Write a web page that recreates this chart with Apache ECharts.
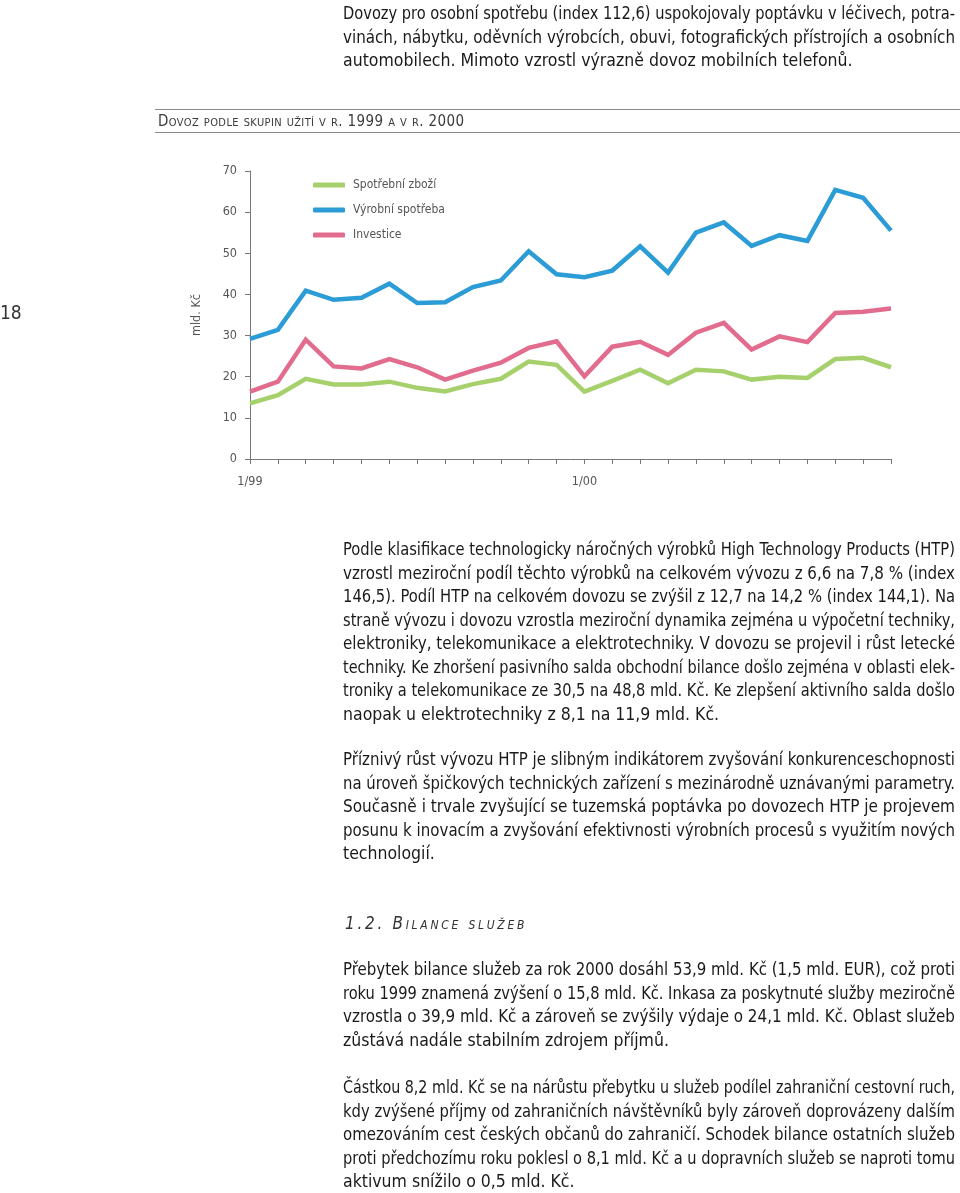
<!DOCTYPE html>
<html><head><meta charset="utf-8">
<script src="https://cdn.jsdelivr.net/npm/echarts@6/dist/echarts.min.js"></script>
<style>
html,body{margin:0;padding:0;background:#fff;}
#page{position:relative;width:960px;height:1193px;overflow:hidden;font-family:"Liberation Sans Narrow","DejaVu Sans Condensed","Roboto Condensed",sans-serif;color:#1a1a1a;}
#chart{position:absolute;left:0;top:0;width:960px;height:1193px;}
.ln{position:absolute;left:343px;width:612px;font-size:17.5px;line-height:23.5px;height:23.5px;white-space:nowrap;transform-origin:0 0;}
.j{text-align:justify;text-align-last:justify;}
.hdr{position:absolute;left:158px;top:112px;font-size:15px;font-variant:small-caps;color:#3a3a3a;letter-spacing:0.4px;}
.rule{position:absolute;left:155px;width:805px;height:0;border-top:1.5px solid #8a8a8a;}
.sec{position:absolute;left:345px;top:913px;font-size:17px;font-style:italic;font-variant:small-caps;letter-spacing:2.7px;color:#333;}
.pg{position:absolute;left:0;top:301px;font-size:19px;color:#333;}
</style></head>
<body><div id="page"><div id="chart"></div></div>
<script>
// ---- chart data ----
const categories = ['1/99','2/99','3/99','4/99','5/99','6/99','7/99','8/99','9/99','10/99','11/99','12/99',
                    '1/00','2/00','3/00','4/00','5/00','6/00','7/00','8/00','9/00','10/00','11/00','12/00'];
const spotrebniZbozi = [13.5,15.5,19.5,18.1,18.1,18.8,17.3,16.4,18.2,19.5,23.7,22.9,
                        16.4,19.0,21.7,18.4,21.7,21.3,19.3,20.0,19.7,24.3,24.6,22.3];
const vyrobniSpotreba = [29.2,31.4,40.9,38.7,39.2,42.6,37.9,38.1,41.8,43.4,50.5,44.9,
                         44.2,45.8,51.7,45.3,55.0,57.5,51.8,54.4,53.0,65.4,63.5,55.5];
const investice = [16.4,18.8,29.0,22.5,22.0,24.3,22.3,19.3,21.5,23.4,27.0,28.6,
                   20.1,27.3,28.5,25.3,30.7,33.1,26.6,29.8,28.4,35.5,35.8,36.6];
const seriesNames = ['Spotřební zboží','Výrobní spotřeba','Investice'];
const yTicks = [0,10,20,30,40,50,60,70];
const yName = 'mld. Kč';
const chartTitle = 'Dovoz podle skupin užití v r. 1999 a v r. 2000';

// ---- page text ----
const para1 = ['Dovozy pro osobní spotřebu (index 112,6) uspokojovaly poptávku v léčivech, potra-',
  'vinách, nábytku, oděvních výrobcích, obuvi, fotografických přístrojích a osobních',
  'automobilech. Mimoto vzrostl výrazně dovoz mobilních telefonů.'];
const para2 = ['Podle klasifikace technologicky náročných výrobků High Technology Products (HTP)',
  'vzrostl meziroční podíl těchto výrobků na celkovém vývozu z 6,6 na 7,8 % (index',
  '146,5). Podíl HTP na celkovém dovozu se zvýšil z 12,7 na 14,2 % (index 144,1). Na',
  'straně vývozu i dovozu vzrostla meziroční dynamika zejména u výpočetní techniky,',
  'elektroniky, telekomunikace a elektrotechniky. V dovozu se projevil i růst letecké',
  'techniky. Ke zhoršení pasivního salda obchodní bilance došlo zejména v oblasti elek-',
  'troniky a telekomunikace ze 30,5 na 48,8 mld. Kč. Ke zlepšení aktivního salda došlo',
  'naopak u elektrotechniky z 8,1 na 11,9 mld. Kč.'];
const para3 = ['Příznivý růst vývozu HTP je slibným indikátorem zvyšování konkurenceschopnosti',
  'na úroveň špičkových technických zařízení s mezinárodně uznávanými parametry.',
  'Současně i trvale zvyšující se tuzemská poptávka po dovozech HTP je projevem',
  'posunu k inovacím a zvyšování efektivnosti výrobních procesů s využitím nových',
  'technologií.'];
const sectionTitle = '1.2. Bilance služeb';
const para4 = ['Přebytek bilance služeb za rok 2000 dosáhl 53,9 mld. Kč (1,5 mld. EUR), což proti',
  'roku 1999 znamená zvýšení o 15,8 mld. Kč. Inkasa za poskytnuté služby meziročně',
  'vzrostla o 39,9 mld. Kč a zároveň se zvýšily výdaje o 24,1 mld. Kč. Oblast služeb',
  'zůstává nadále stabilním zdrojem příjmů.'];
const para5 = ['Částkou 8,2 mld. Kč se na nárůstu přebytku u služeb podílel zahraniční cestovní ruch,',
  'kdy zvýšené příjmy od zahraničních návštěvníků byly zároveň doprovázeny dalším',
  'omezováním cest českých občanů do zahraničí. Schodek bilance ostatních služeb',
  'proti předchozímu roku poklesl o 8,1 mld. Kč a u dopravních služeb se naproti tomu',
  'aktivum snížilo o 0,5 mld. Kč.'];
const pageNumber = '18';

const page = document.getElementById('page');
const TEXT_W = 612;
function addPara(lines, top){
  lines.forEach((t,i)=>{
    const d=document.createElement('div');
    d.className='ln';
    d.style.top=(top+i*23.5)+'px';
    const s=document.createElement('span');
    s.textContent=t;
    d.appendChild(s);
    page.appendChild(d);
    const w=s.getBoundingClientRect().width;
    const last = i===lines.length-1;
    if(w>TEXT_W){
      d.style.width=w+'px';
      d.style.transform='scaleX('+(TEXT_W/w)+')';
    } else if(!last){
      d.classList.add('j');
      d.textContent=t;
    }
  });
}
addPara(para1, 2);
addPara(para2, 538);
addPara(para3, 748);
addPara(para4, 958);
addPara(para5, 1076);
function addEl(cls, text, style){
  const d=document.createElement('div'); d.className=cls; if(text) d.textContent=text;
  if(style) Object.assign(d.style, style); page.appendChild(d);
}
addEl('rule', '', {top:'109px'});
addEl('rule', '', {top:'132px'});
addEl('hdr', chartTitle);
addEl('sec', sectionTitle);
addEl('pg', pageNumber);

const chart = echarts.init(document.getElementById('chart'), null, {renderer:'canvas'});
const fontFam = '"DejaVu Sans Condensed","DejaVu Sans",sans-serif';
const colors = ['#a6d06c','#2b9cd6','#e26c8d'];
const datas = [spotrebniZbozi, vyrobniSpotreba, investice];
chart.setOption({
  animation:false,
  color: colors,
  grid:{left:250, right:69, top:171, bottom:734, containLabel:false},
  legend:{
    orient:'vertical', left:308, top:173, itemWidth:32, itemHeight:5, itemGap:11,
    icon:'roundRect',
    textStyle:{fontFamily:fontFam, fontSize:12, color:'#555', padding:[0,0,0,3], lineHeight:14},
    data: seriesNames
  },
  xAxis:{
    type:'category', data:categories, boundaryGap:false,
    axisLine:{lineStyle:{color:'#777', width:1}},
    axisTick:{show:true, interval:0, length:5, lineStyle:{color:'#777'}},
    axisLabel:{interval:11, margin:16, fontFamily:fontFam, fontSize:12.5, color:'#555'}
  },
  yAxis:{
    type:'value', min:yTicks[0], max:yTicks[yTicks.length-1], interval:10,
    name:yName, nameLocation:'middle', nameRotate:90, nameGap:47,
    nameTextStyle:{fontFamily:fontFam, fontSize:12.5, color:'#555'},
    axisLine:{show:true, lineStyle:{color:'#777', width:1}},
    axisTick:{show:true, length:5, lineStyle:{color:'#777'}},
    splitLine:{show:false},
    axisLabel:{margin:13, fontFamily:fontFam, fontSize:12.5, color:'#555'}
  },
  series: seriesNames.map((n,i)=>({
    name:n, type:'line', data:datas[i], showSymbol:false, symbol:'none',
    lineStyle:{width:4.5, color:colors[i], join:'miter'}
  }))
});
</script>
</body></html>
